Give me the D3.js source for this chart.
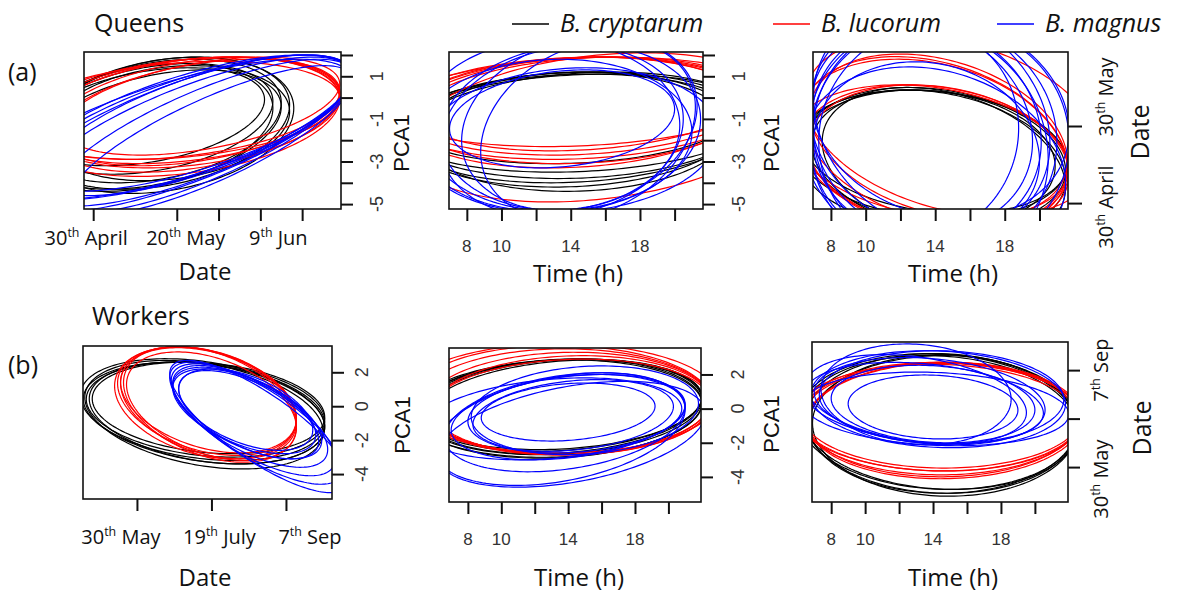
<!DOCTYPE html>
<html><head><meta charset="utf-8">
<script src="https://cdn.jsdelivr.net/npm/d3@7"></script>
<style>body{margin:0;background:#fff}svg{display:block}</style>
</head><body>
<svg id="c" width="1180" height="595"></svg>
<script>
// ---------------- DATA ----------------
const speciesNames = ["B. cryptarum", "B. lucorum", "B. magnus"];
const speciesColors = ["#000000", "#ff0000", "#0000ff"];

// ellipse = [centreX, centreY, spreadX, spreadY, correlation]
// Queens: date (days after 30 April) vs PCA1
const qDatePca_cryptarum = [[15,-1.1,30,2.9,0.3],[14,-1.0,29,2.6,0.32],[16,-1.2,31,3.1,0.28],[13,-0.9,28,2.3,0.35],[17,-1.3,31,3.2,0.25],[15,-1.5,30,2.8,0.38],[18,-1.2,29,2.7,0.2],[12,-1.4,31,3.0,0.3]];
const qDatePca_lucorum = [[22,-0.6,37,2.5,0.3],[23,-0.7,36,2.6,0.28],[21,-0.5,38,2.4,0.32],[24,-0.8,35,2.7,0.35],[20,-0.6,39,2.3,0.25],[25,-0.7,34,2.5,0.4],[22,-0.9,37,2.8,0.3],[26,-0.4,33,2.3,0.45]];
const qDatePca_magnus = [[22,-1.4,40,3.4,0.72],[24,-1.6,38,3.5,0.75],[20,-1.5,42,3.3,0.7],[26,-1.8,36,3.6,0.78],[23,-1.2,39,3.2,0.68],[28,-2.0,34,3.5,0.8],[21,-1.7,41,3.7,0.74],[25,-1.3,37,3.3,0.7]];
// Queens: time (h) vs PCA1
const qTimePca_cryptarum = [[14.3,-1.3,10,2.5,0.1],[14.0,-1.5,9.5,2.7,0.1],[14.5,-1.2,10.5,2.3,0.15],[14.2,-1.6,9,2.8,0.05],[14.0,-1.0,9.5,2.1,0.12],[14.6,-1.4,10,2.6,0.18]];
const qTimePca_lucorum = [[14.5,-0.4,10,2.3,0.15],[14.2,-0.5,10.5,2.4,0.12],[14.8,-0.3,9.5,2.2,0.2],[14.4,-0.6,10,2.5,0.1],[14.6,-0.2,11,2.1,0.18],[14.3,-0.7,9.8,2.6,0.15],[15.5,-1.4,11,3.5,0.25]];
const qTimePca_magnus = [[13.5,-1.0,6.5,2.3,0.2],[14,-1.4,7.5,3.9,0.1],[13.5,-1.6,7,4.0,0.15],[14.5,-1.2,6.8,4.1,0.2],[13,-1.8,8,3.6,0.05],[15,-1.5,6.2,4.2,0.25],[12.8,-1.3,7.5,4.0,0.0],[14,-2.0,8.5,3.4,0.1]];
// Queens: time (h) vs date (days after 30 April)
const qTimeDate_cryptarum = [[14,18,7.5,27,-0.2],[14.2,16,7.3,28,-0.25],[13.8,19,7.8,25,-0.15],[14.5,15,7,30,-0.3],[14,20,7.6,24,-0.2],[13.5,17,7.4,27,-0.1]];
const qTimeDate_lucorum = [[14,18,7.7,28,-0.2],[13.8,20,7.9,26,-0.25],[14.2,17,7.5,29,-0.2],[13.8,22,7.8,34,-0.25],[14,24,7.6,33,-0.3],[14.2,26,7.4,32,-0.3],[15,30,8.5,35,-0.3]];
const qTimeDate_magnus = [[13.5,28,6.6,42,-0.1],[14,26,7,45,-0.05],[13.2,30,6.4,40,-0.15],[14.5,24,7.2,46,0.0],[13.8,32,6.8,44,-0.2],[12.8,27,6,42,0.05],[14.3,34,7.4,40,-0.15],[13.6,22,6.9,47,-0.1],[13.5,20,6.5,35,-0.1],[14,15,7.5,38,-0.2]];
// Workers: date (days after 30 May) vs PCA1
const wDatePca_cryptarum = [[45,-0.3,81,2.9,-0.25],[46,-0.2,80,2.8,-0.22],[47,-0.4,79,3.0,-0.28],[44,-0.3,82,3.1,-0.3],[48,-0.1,78,2.7,-0.2],[45,-0.5,80,3.2,-0.32]];
const wDatePca_lucorum = [[48,0.2,59,3.3,-0.35],[47,0.3,60,3.2,-0.33],[49,0.1,58,3.4,-0.38],[46,0.2,61,3.3,-0.3],[50,0.0,57,3.2,-0.4],[48,0.35,59,3.1,-0.35]];
const wDatePca_magnus = [[74,-0.4,50,2.7,-0.6],[76,-0.6,52,3.0,-0.65],[72,-0.3,48,2.5,-0.55],[78,-0.8,55,3.3,-0.7],[80,-1.0,58,3.6,-0.75],[75,-0.5,47,2.6,-0.6],[82,-1.2,60,3.9,-0.8],[73,-0.2,45,2.4,-0.5]];
// Workers: time (h) vs PCA1
const wTimePca_cryptarum = [[13.5,0.1,8.5,2.8,0.15],[13.6,0.2,8.4,2.7,0.18],[13.4,0.0,8.6,2.9,0.12],[13.7,0.1,8.3,2.75,0.2],[13.5,0.25,8.5,2.65,0.15],[13.3,0.0,8.7,2.85,0.1]];
const wTimePca_lucorum = [[14,0.3,8.5,3.0,0.05],[13.8,0.4,8.8,3.1,0.0],[14.2,0.2,8.3,2.9,0.08],[13.6,0.5,9.0,3.2,-0.03],[14.1,0.1,8.4,2.8,0.1],[13.5,0.6,9.5,3.2,0.0]];
const wTimePca_magnus = [[14,-0.2,5.2,1.7,0.2],[14.3,-0.4,6,2.1,0.25],[14,-0.5,7,2.5,0.3],[13.5,-1.2,7.5,3.3,0.35],[14.5,-0.3,6.5,2.3,0.2],[13.8,-0.8,7.2,2.9,0.3],[15,-0.1,6.8,2.6,0.15],[13,-0.6,7.8,2.4,0.25],[14.2,-1.5,8,3.1,0.4]];
// Workers: time (h) vs date (days after 30 May)
const wTimeDate_cryptarum = [[14.5,45,8,72,-0.05],[14.3,47,8.2,70,-0.08],[14.7,43,7.8,73,-0.03],[14.4,46,8.1,69,-0.1],[14.6,44,7.9,71,0.0]];
const wTimeDate_lucorum = [[14.5,50,8.2,58,0],[14.4,52,8.3,56,-0.03],[14.6,49,8.0,59,0.02],[14.3,51,8.4,55,-0.05],[14.7,48,8.1,60,0.03],[14.5,53,8.2,54,-0.02]];
const wTimeDate_magnus = [[14,62,5,33,-0.1],[14,65,6,40,-0.15],[13.8,68,6.8,45,-0.2],[14.3,70,7.5,50,-0.1],[13.5,66,7,42,-0.25],[14.5,72,7.2,48,-0.05],[13,70,6.5,46,-0.3],[14.2,60,7.8,38,-0.15],[13,75,5.6,52,-0.1]];

// axis ranges and ticks
const qDateRange = [-2.2, 59.3];
const qPcaRange = [-5.23, 2.14];
const qTimeRange = [6.97, 21.64];
const qDateYRange = [-2.3, 58.8];
const wDateRange = [-36.2, 130.9];
const wPcaRange = [-5.47, 3.55];
const wTimeRange = [6.87, 21.95];
const wDateYRange = [-36, 129];

const qDateTicks = [0, 20, 30, 40, 50];
const qDateTickLabels = [[0, "30", "th", " April"], [20, "20", "th", " May"], [40, "9", "th", " Jun"]];
const qPcaTicks = [2, 1, 0, -1, -2, -3, -4, -5];
const qPcaTickLabels = [1, -1, -3, -5];
const hourTicks = [8, 10, 12, 14, 16, 18, 20];
const hourTickLabels = [8, 10, 14, 18];
const qDateYTicks = [0, 30];
const qDateYTickLabels = [[30, "30", "th", " May"], [0, "30", "th", " April"]];
const wDateTicks = [0, 50, 100];
const wDateTickLabels = [[0, "30", "th", " May"], [50, "19", "th", " July"], [100, "7", "th", " Sep"]];
const wPcaTicks = [2, 0, -2, -4];
const wPcaTickLabels = [2, 0, -2, -4];
const wDateYTicks = [0, 50, 100];
const wDateYTickLabels = [[100, "7", "th", " Sep"], [0, "30", "th", " May"]];

// ---------------- DRAW ----------------
const svg = d3.select("#c");
const sansUI = "'Open Sans', 'Noto Sans', sans-serif";
const sansR = "'Liberation Sans', Arial, sans-serif";

function ellipsePoints(e) {
  const [cx, cy, sx, sy, r] = e;
  const q = Math.sqrt(1 - r * r);
  return d3.range(0, 360, 2).map(deg => {
    const t = deg * Math.PI / 180;
    return [cx + sx * Math.cos(t), cy + sy * (r * Math.cos(t) + q * Math.sin(t))];
  });
}

function supText(g, xPos, yPos, parts, size, rotate, anchor) {
  const t = g.append("text")
    .attr("transform", `translate(${xPos},${yPos})` + (rotate ? " rotate(-90)" : ""))
    .attr("text-anchor", anchor || "middle")
    .attr("font-family", sansUI).attr("font-size", size).attr("fill", "#111");
  if (rotate) t.attr("dy", "0.35em");
  t.append("tspan").text(parts[0]);
  t.append("tspan").attr("font-size", size * 0.62).attr("dy", -size * 0.38).text(parts[1]);
  t.append("tspan").attr("dy", size * 0.38).text(parts[2]);
}

const panels = [
  {id: "a1", box: [84, 341, 52, 209], xr: qDateRange, yr: qPcaRange,
   sets: [qDatePca_cryptarum, qDatePca_lucorum, qDatePca_magnus],
   xTicks: qDateTicks, yTicks: qPcaTicks,
   xDateLabels: qDateTickLabels, xDateDx: [-7, 9, 18], xLabelY: 245,
   yNumLabels: qPcaTickLabels, yLabelX: 377,
   xTitle: "Date", xTitleX: 205, xTitleY: 280, yTitle: "PCA1", yTitleX: 401, yTitleY: 143},
  {id: "a2", box: [449, 703, 52, 209], xr: qTimeRange, yr: qPcaRange,
   sets: [qTimePca_cryptarum, qTimePca_lucorum, qTimePca_magnus],
   xTicks: hourTicks, yTicks: qPcaTicks,
   xNumLabels: hourTickLabels, xLabelY: 252,
   yNumLabels: qPcaTickLabels, yLabelX: 739,
   xTitle: "Time (h)", xTitleX: 578, xTitleY: 282, yTitle: "PCA1", yTitleX: 771, yTitleY: 143},
  {id: "a3", box: [813, 1068, 52, 209], xr: qTimeRange, yr: qDateYRange,
   sets: [qTimeDate_cryptarum, qTimeDate_lucorum, qTimeDate_magnus],
   xTicks: hourTicks, yTicks: qDateYTicks, yTickLen: 14,
   xNumLabels: hourTickLabels, xLabelY: 252,
   yDateLabels: qDateYTickLabels, yDateDy: [-29, 4], yLabelX: 1106,
   xTitle: "Time (h)", xTitleX: 953, xTitleY: 282, yTitle: "Date", yTitleX: 1140, yTitleY: 132, yTitleUI: true},
  {id: "b1", box: [83, 332, 346, 499], xr: wDateRange, yr: wPcaRange,
   sets: [wDatePca_cryptarum, wDatePca_lucorum, wDatePca_magnus],
   xTicks: wDateTicks, yTicks: wPcaTicks,
   xDateLabels: wDateTickLabels, xDateDx: [-16, 8, 24], xLabelY: 544,
   yNumLabels: wPcaTickLabels, yLabelX: 362,
   xTitle: "Date", xTitleX: 205, xTitleY: 586, yTitle: "PCA1", yTitleX: 402, yTitleY: 425},
  {id: "b2", box: [449, 701, 348, 502], xr: wTimeRange, yr: wPcaRange,
   sets: [wTimePca_cryptarum, wTimePca_lucorum, wTimePca_magnus],
   xTicks: hourTicks, yTicks: wPcaTicks,
   xNumLabels: hourTickLabels, xLabelY: 545,
   yNumLabels: wPcaTickLabels, yLabelX: 738,
   xTitle: "Time (h)", xTitleX: 579, xTitleY: 586, yTitle: "PCA1", yTitleX: 771, yTitleY: 424},
  {id: "b3", box: [812, 1068, 342, 502], xr: wTimeRange, yr: wDateYRange,
   sets: [wTimeDate_cryptarum, wTimeDate_lucorum, wTimeDate_magnus],
   xTicks: hourTicks, yTicks: wDateYTicks,
   xNumLabels: hourTickLabels, xLabelY: 545,
   yDateLabels: wDateYTickLabels, yDateDy: [0, 12], yLabelX: 1101,
   xTitle: "Time (h)", xTitleX: 953, xTitleY: 586, yTitle: "Date", yTitleX: 1142, yTitleY: 428, yTitleUI: true}
];

const defs = svg.append("defs");

panels.forEach(p => {
  const [bx0, bx1, by0, by1] = p.box;
  const x = d3.scaleLinear().domain(p.xr).range([bx0, bx1]);
  const y = d3.scaleLinear().domain(p.yr).range([by1, by0]);
  defs.append("clipPath").attr("id", "clip-" + p.id)
    .append("rect").attr("x", bx0).attr("y", by0).attr("width", bx1 - bx0).attr("height", by1 - by0);
  const g = svg.append("g");
  const line = d3.line().x(d => x(d[0])).y(d => y(d[1])).curve(d3.curveLinearClosed);
  const plot = g.append("g").attr("clip-path", `url(#clip-${p.id})`);
  p.sets.forEach((set, i) => {
    plot.append("g").selectAll("path").data(set).join("path")
      .attr("d", e => line(ellipsePoints(e)))
      .attr("fill", "none").attr("stroke", speciesColors[i]).attr("stroke-width", 1.2);
  });
  g.append("rect").attr("x", bx0).attr("y", by0).attr("width", bx1 - bx0).attr("height", by1 - by0)
    .attr("fill", "none").attr("stroke", "#111").attr("stroke-width", 1.6);

  const ax = g.append("g").attr("transform", `translate(0,${by1})`)
    .call(d3.axisBottom(x).tickValues(p.xTicks).tickSize(12).tickFormat(""));
  ax.select(".domain").remove();
  ax.selectAll("line").attr("stroke", "#111").attr("stroke-width", 2);
  const ay = g.append("g").attr("transform", `translate(${bx1},0)`)
    .call(d3.axisRight(y).tickValues(p.yTicks).tickSize(p.yTickLen || 12).tickFormat(""));
  ay.select(".domain").remove();
  ay.selectAll("line").attr("stroke", "#111").attr("stroke-width", 2);

  if (p.xNumLabels) {
    g.selectAll(null).data(p.xNumLabels).join("text")
      .attr("x", d => x(d)).attr("y", p.xLabelY).attr("text-anchor", "middle")
      .attr("font-family", sansR).attr("font-size", 17).attr("fill", "#333").text(d => d);
  }
  if (p.xDateLabels) {
    p.xDateLabels.forEach((d, i) => supText(g, x(d[0]) + p.xDateDx[i], p.xLabelY, d.slice(1), 20, false));
  }
  if (p.yNumLabels) {
    p.yNumLabels.forEach(d => {
      g.append("text").attr("transform", `translate(${p.yLabelX},${y(d)}) rotate(-90)`)
        .attr("text-anchor", "middle").attr("dy", "0.35em")
        .attr("font-family", sansR).attr("font-size", 18).attr("fill", "#333").text(d);
    });
  }
  if (p.yDateLabels) {
    p.yDateLabels.forEach((d, i) => supText(g, p.yLabelX, y(d[0]) + p.yDateDy[i], d.slice(1), 20, true));
  }
  g.append("text").attr("x", p.xTitleX).attr("y", p.xTitleY).attr("text-anchor", "middle")
    .attr("font-family", sansUI).attr("font-size", 24).attr("fill", "#111").text(p.xTitle);
  g.append("text").attr("transform", `translate(${p.yTitleX},${p.yTitleY}) rotate(-90)`)
    .attr("text-anchor", "middle").attr("dy", "0.35em")
    .attr("font-family", p.yTitleUI ? sansUI : sansR).attr("font-size", p.yTitleUI ? 25 : 22)
    .attr("fill", "#111").text(p.yTitle);
});

const rowTitles = [["Queens", 94, 32], ["Workers", 92, 325]];
rowTitles.forEach(r => svg.append("text").attr("x", r[1]).attr("y", r[2])
  .attr("font-family", sansUI).attr("font-size", 25).attr("fill", "#111").text(r[0]));
const rowLetters = [["(a)", 8, 81], ["(b)", 8, 374]];
rowLetters.forEach(r => svg.append("text").attr("x", r[1]).attr("y", r[2])
  .attr("font-family", sansUI).attr("font-size", 25).attr("fill", "#111").text(r[0]));

const legendX = [512, 773, 997];
const leg = svg.append("g");
speciesNames.forEach((s, i) => {
  leg.append("line").attr("x1", legendX[i]).attr("x2", legendX[i] + 37).attr("y1", 24).attr("y2", 24)
    .attr("stroke", speciesColors[i]).attr("stroke-width", 1.6);
  leg.append("text").attr("x", legendX[i] + 48).attr("y", 32)
    .attr("font-family", sansUI).attr("font-style", "italic").attr("font-size", 25)
    .attr("fill", "#111").text(s);
});
</script>
</body></html>
